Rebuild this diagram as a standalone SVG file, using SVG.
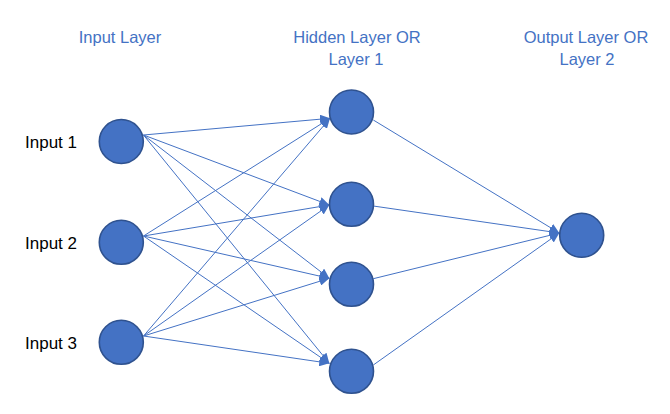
<svg xmlns="http://www.w3.org/2000/svg" width="670" height="414" viewBox="0 0 670 414">
<style>
.node{fill:#4472C4;stroke:#2F528F;stroke-width:1.6}
.edge{stroke:#4472C4;stroke-width:1;fill:none}
.title{font-family:"Liberation Sans",Arial,sans-serif;font-size:16.5px;fill:#4472C4;text-anchor:middle}
.lbl{font-family:"Liberation Sans",Arial,sans-serif;font-size:17px;fill:#000}
</style>
<defs>
<marker id="arr" markerUnits="userSpaceOnUse" markerWidth="11" markerHeight="9" refX="10" refY="4.5" orient="auto">
<path d="M0,0 L10,4.5 L0,9 z" fill="#4472C4"/>
</marker>
</defs>
<rect width="670" height="414" fill="#fff"/>
<g id="titles">
<text class="title" x="120" y="43">Input Layer</text>
<text class="title" x="357" y="43">Hidden Layer OR</text>
<text class="title" x="356" y="65">Layer 1</text>
<text class="title" x="586" y="43">Output Layer OR</text>
<text class="title" x="587" y="65">Layer 2</text>
</g>
<g id="connectors">
<line class="edge" x1="143.5" y1="135" x2="330" y2="118.3" marker-end="url(#arr)"/>
<line class="edge" x1="143.5" y1="135" x2="329.3" y2="205" marker-end="url(#arr)"/>
<line class="edge" x1="143.5" y1="135" x2="329.3" y2="278.3" marker-end="url(#arr)"/>
<line class="edge" x1="143.5" y1="135" x2="329.3" y2="363.3" marker-end="url(#arr)"/>
<line class="edge" x1="143.5" y1="236" x2="330" y2="118.3" marker-end="url(#arr)"/>
<line class="edge" x1="143.5" y1="236" x2="329.3" y2="205" marker-end="url(#arr)"/>
<line class="edge" x1="143.5" y1="236" x2="329.3" y2="278.3" marker-end="url(#arr)"/>
<line class="edge" x1="143.5" y1="236" x2="329.3" y2="363.3" marker-end="url(#arr)"/>
<line class="edge" x1="143.5" y1="336" x2="330" y2="118.3" marker-end="url(#arr)"/>
<line class="edge" x1="143.5" y1="336" x2="329.3" y2="205" marker-end="url(#arr)"/>
<line class="edge" x1="143.5" y1="336" x2="329.3" y2="278.3" marker-end="url(#arr)"/>
<line class="edge" x1="143.5" y1="336" x2="329.3" y2="363.3" marker-end="url(#arr)"/>
<line class="edge" x1="373.3" y1="120" x2="559.3" y2="233" marker-end="url(#arr)"/>
<line class="edge" x1="373.3" y1="206" x2="559.3" y2="233" marker-end="url(#arr)"/>
<line class="edge" x1="373.3" y1="278.7" x2="559.3" y2="233" marker-end="url(#arr)"/>
<line class="edge" x1="373.3" y1="365" x2="559.3" y2="233" marker-end="url(#arr)"/>
</g>
<g id="in1"><circle class="node" cx="121.3" cy="141.5" r="22"/><text class="lbl" x="25" y="148">Input 1</text></g>
<g id="in2"><circle class="node" cx="121.3" cy="242.3" r="22"/><text class="lbl" x="25" y="249">Input 2</text></g>
<g id="in3"><circle class="node" cx="121.3" cy="342.3" r="22"/><text class="lbl" x="25" y="349">Input 3</text></g>
<g id="h1"><circle class="node" cx="351.5" cy="112" r="22"/></g>
<g id="h2"><circle class="node" cx="351.5" cy="204.3" r="22"/></g>
<g id="h3"><circle class="node" cx="351.5" cy="284.3" r="22"/></g>
<g id="h4"><circle class="node" cx="351.5" cy="371.3" r="22"/></g>
<g id="out"><circle class="node" cx="581.7" cy="235.3" r="22"/></g>
</svg>
